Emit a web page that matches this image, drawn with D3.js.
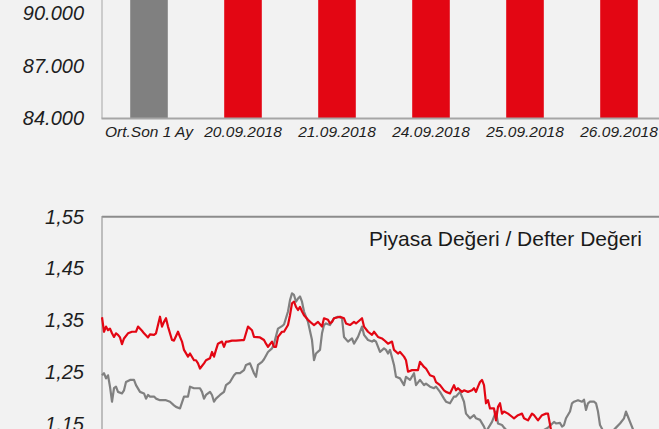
<!DOCTYPE html>
<html>
<head>
<meta charset="utf-8">
<script src="https://cdn.jsdelivr.net/npm/d3@7"></script>
<style>
  body { margin: 0; background: #f2f2f2; }
  svg { display: block; }
  .tick text { font-family: "Liberation Sans", Arial, sans-serif; font-style: italic; fill: #1e1e1e; }
</style>
</head>
<body>
<svg id="chart" width="659" height="429"></svg>
<script>
// Bar chart data (top, values above the cropped edge)
const barCategories = ["Ort.Son 1 Ay", "20.09.2018", "21.09.2018", "24.09.2018", "25.09.2018", "26.09.2018"];
const barValues = [95200, 94800, 94900, 95000, 94700, 94600];
const barTicks = [84000, 87000, 90000];

// PD/DD line chart data (bottom)
const redDays = [0,1,2,3,4,5,6,7,8,9,10,11,13,15,17,18,20,21,23,24,26,27,29,30,31,32,33,35,36,38,39,40,41,43,44,46,47,48,49,51,52,54,55,56,57,58,60,61,62,63,65,67,70,71,72,73,75,76,79,81,82,83,85,86,87,88,90,91,93,94,95,96,97,98,99,100,101,103,105,106,108,110,111,113,114,
  115,116,119,121,122,124,126,127,130,131,133,135,136,138,140,141,143,145,146,148,149,151,152,153,155,156,158,159,161,162,164,166,167,169,171,172,174,176,177,178,180,181,183,185,186,187,188,189,190,191,192,193,194,196,197,198,199,200,201,203,205,206,208,210,211,213,215,216,218,220,222,223,
  225,230,240,250,265,279];
const redValues = [1.356,1.328,1.338,1.331,1.334,1.325,1.318,1.325,1.322,1.317,1.304,1.315,1.325,1.328,1.328,1.338,1.330,1.325,1.317,1.323,1.322,1.325,1.357,1.338,1.347,1.354,1.338,1.312,1.311,1.328,1.318,1.309,1.293,1.280,1.286,1.273,1.273,1.267,1.257,1.267,1.273,1.277,1.289,1.280,1.293,1.305,1.309,1.299,1.309,1.309,1.311,1.311,1.312,1.312,1.325,1.338,1.331,1.318,1.317,1.312,1.305,1.299,1.309,1.299,1.299,1.318,1.328,1.328,1.341,1.360,1.383,1.386,1.376,1.370,1.376,1.367,1.360,1.351,1.344,1.341,1.347,1.338,1.354,1.351,1.344,
  1.347,1.354,1.357,1.354,1.344,1.341,1.347,1.344,1.354,1.338,1.328,1.322,1.328,1.318,1.315,1.312,1.305,1.309,1.293,1.286,1.289,1.280,1.273,1.251,1.254,1.254,1.254,1.270,1.260,1.257,1.244,1.241,1.231,1.225,1.215,1.212,1.209,1.225,1.215,1.219,1.212,1.215,1.212,1.215,1.219,1.212,1.222,1.231,1.235,1.225,1.190,1.196,1.180,1.180,1.157,1.183,1.190,1.170,1.174,1.170,1.164,1.161,1.167,1.170,1.161,1.157,1.170,1.167,1.157,1.167,1.170,1.170,
  1.128,1.122,1.118,1.114,1.110,1.106];

const grayDays = [0,1,2,3,4,5,6,7,8,10,11,12,14,16,17,19,21,22,23,24,26,27,29,31,32,34,36,37,39,41,42,43,44,46,47,49,50,51,52,54,55,56,57,59,61,62,64,66,67,69,71,72,74,76,77,78,80,81,83,85,86,88,90,91,93,94,95,96,97,98,99,100,101,103,105,106,107,109,110,111,112,114,
  116,118,120,121,123,125,126,128,130,131,133,135,136,137,139,141,142,143,144,146,147,149,151,152,154,156,157,159,161,162,164,166,167,169,171,172,174,176,177,179,181,182,184,186,187,189,191,192,195,197,198,200,201,203,
  210,218,223,226,227,229,230,231,232,234,235,236,238,240,241,242,243,244,246,247,248,249,250,251,253,255,257,259,261,262,263,264,266,268,272,279];
const grayValues = [1.244,1.248,1.238,1.244,1.222,1.193,1.219,1.222,1.212,1.209,1.215,1.231,1.235,1.235,1.225,1.212,1.209,1.199,1.206,1.203,1.203,1.199,1.196,1.196,1.196,1.193,1.186,1.183,1.180,1.203,1.203,1.203,1.222,1.219,1.219,1.219,1.212,1.199,1.206,1.212,1.206,1.193,1.199,1.206,1.212,1.225,1.231,1.244,1.248,1.248,1.254,1.264,1.267,1.248,1.241,1.264,1.270,1.275,1.289,1.296,1.305,1.334,1.339,1.342,1.367,1.389,1.402,1.399,1.386,1.392,1.396,1.386,1.367,1.347,1.312,1.273,1.286,1.293,1.325,1.341,1.344,1.341,
  1.354,1.357,1.354,1.318,1.309,1.315,1.305,1.318,1.338,1.322,1.312,1.309,1.312,1.309,1.289,1.296,1.293,1.286,1.293,1.264,1.241,1.238,1.225,1.241,1.235,1.248,1.225,1.235,1.225,1.228,1.222,1.219,1.222,1.212,1.199,1.193,1.190,1.203,1.203,1.212,1.193,1.170,1.161,1.167,1.161,1.158,1.145,1.135,1.154,1.174,1.151,1.148,1.143,1.135,
  1.128,1.132,1.143,1.154,1.151,1.152,1.145,1.148,1.161,1.174,1.190,1.193,1.196,1.193,1.197,1.177,1.190,1.193,1.193,1.190,1.174,1.148,1.141,1.132,1.128,1.135,1.143,1.151,1.161,1.174,1.164,1.154,1.135,1.125,1.120,1.115];
const lineTicks = [1.15, 1.25, 1.35, 1.45, 1.55];
const lineTitle = "Piyasa Değeri / Defter Değeri";

const trLocale = d3.formatLocale({ decimal: ",", thousands: ".", grouping: [3], currency: ["", " TL"] });

const svg = d3.select("#chart");
const redColor = "#e30613";
const grayColor = "#808080";

// ---- Top: bar chart ----
const xBar = d3.scaleBand().domain(barCategories).range([102, 666]).paddingInner(0.6).paddingOuter(0.3);
const yBar = d3.scaleLinear().domain([84000, 90000]).range([118.5, 13.4]);

svg.append("g")
  .selectAll("rect")
  .data(barCategories)
  .enter().append("rect")
  .attr("x", d => xBar(d))
  .attr("width", xBar.bandwidth())
  .attr("y", (d, i) => yBar(barValues[i]))
  .attr("height", (d, i) => yBar(84000) - yBar(barValues[i]))
  .attr("fill", (d, i) => i === 0 ? grayColor : redColor);

const yBarAxis = svg.append("g")
  .attr("transform", "translate(102,0)")
  .call(d3.axisLeft(yBar).tickValues(barTicks).tickSize(0).tickPadding(18).tickFormat(trLocale.format(",.0f")));
yBarAxis.select(".domain").remove();
yBarAxis.selectAll("text").style("font-size", "20px");

svg.append("line")
  .attr("x1", 102).attr("x2", 102).attr("y1", 0).attr("y2", 118.5)
  .attr("stroke", "#a6a6a6").attr("stroke-width", 1);

const xBarAxis = svg.append("g")
  .attr("transform", "translate(0,118.5)")
  .call(d3.axisBottom(xBar).tickSize(0).tickPadding(7));
xBarAxis.select(".domain").remove();
xBarAxis.selectAll("text").style("font-size", "15.5px");

svg.append("line")
  .attr("x1", 101.5).attr("x2", 659).attr("y1", 118.5).attr("y2", 118.5)
  .attr("stroke", "#a6a6a6").attr("stroke-width", 2);

// ---- Bottom: PD/DD line chart ----
const xLine = d3.scaleLinear().domain([0, 280]).range([102, 662]);
const yLine = d3.scaleLinear().domain([1.15, 1.55]).range([424, 216.7]);

const yLineAxis = svg.append("g")
  .attr("transform", "translate(102,0)")
  .call(d3.axisLeft(yLine).tickValues(lineTicks).tickSize(0).tickPadding(18).tickFormat(trLocale.format(".2f")));
yLineAxis.select(".domain").remove();
yLineAxis.selectAll("text").style("font-size", "20px");

// frame: top and left
svg.append("line")
  .attr("x1", 102).attr("x2", 659).attr("y1", 216.7).attr("y2", 216.7)
  .attr("stroke", "#8c8c8c").attr("stroke-width", 2);
svg.append("line")
  .attr("x1", 102).attr("x2", 102).attr("y1", 216).attr("y2", 429)
  .attr("stroke", "#999").attr("stroke-width", 1.2);

svg.append("text")
  .attr("x", 642).attr("y", 246)
  .attr("text-anchor", "end")
  .style("font-family", "'Liberation Sans', Arial, sans-serif")
  .style("font-size", "21px")
  .attr("fill", "#1a1a1a")
  .text(lineTitle);

const grayLine = d3.line().x((d, i) => xLine(grayDays[i])).y(d => yLine(d));
const redLine = d3.line().x((d, i) => xLine(redDays[i])).y(d => yLine(d));

svg.append("path")
  .datum(grayValues)
  .attr("d", grayLine)
  .attr("fill", "none")
  .attr("stroke", grayColor)
  .attr("stroke-width", 2.2)
  .attr("stroke-linejoin", "round");

svg.append("path")
  .datum(redValues)
  .attr("d", redLine)
  .attr("fill", "none")
  .attr("stroke", redColor)
  .attr("stroke-width", 2.2)
  .attr("stroke-linejoin", "round");
</script>
</body>
</html>
